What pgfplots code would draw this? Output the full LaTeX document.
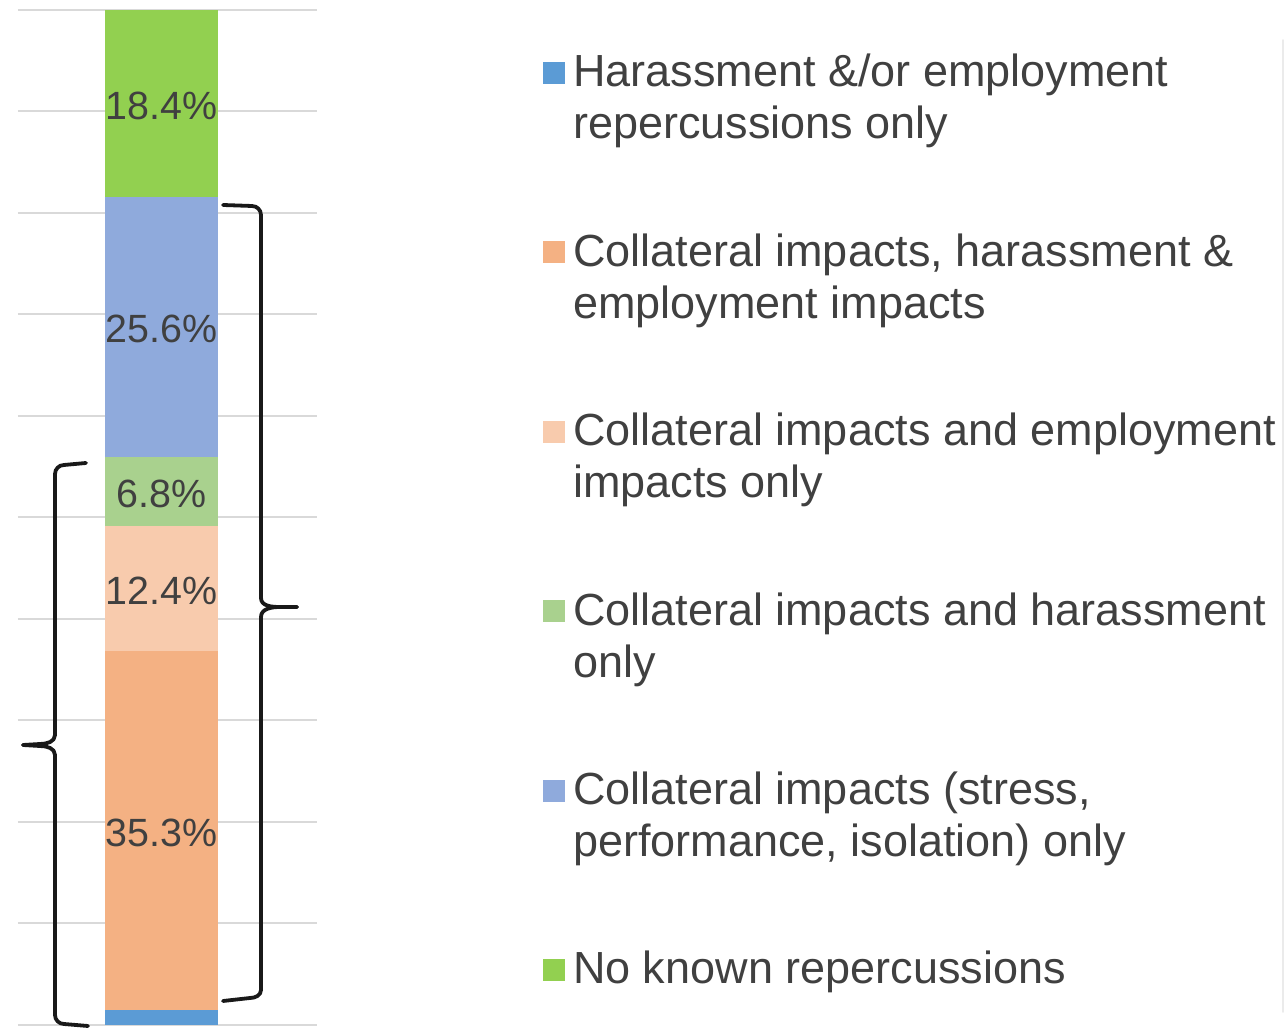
\documentclass[border=0pt]{standalone}
\usepackage{pgfplots}
\pgfplotsset{compat=1.18}
\usepackage{fontspec}
\setmainfont{Liberation Sans}
\definecolor{cHar}{HTML}{5B9BD5}
\definecolor{cCHE}{HTML}{F4B183}
\definecolor{cCE}{HTML}{F8CBAD}
\definecolor{cCH}{HTML}{A9D18E}
\definecolor{cC}{HTML}{8FAADC}
\definecolor{cNone}{HTML}{92D050}
\definecolor{txt}{HTML}{404040}
\definecolor{gridc}{HTML}{D9D9D9}
\begin{document}
\begin{tikzpicture}
\useasboundingbox (0,0) rectangle (643pt,514pt);
\begin{axis}[
  at={(9pt,1.5pt)}, anchor=south west,
  scale only axis, width=149.5pt, height=507.5pt,
  xmin=-143.5, xmax=155.5, ymin=0, ymax=100,
  ybar stacked, bar width=56.5pt,
  axis line style={draw=none},
  ytick={0,10,...,100}, xtick=\empty,
  yticklabels={}, major tick length=0pt,
  ymajorgrids, grid style={gridc, line width=1pt},
  clip=false,
  /pgf/number format/assume math mode=true,
  nodes near coords={\pgfmathprintnumber[fixed,precision=1,fixed zerofill]{\pgfplotspointmeta}\%},
  every node near coord/.append style={font=\fontsize{19.7}{22}\selectfont, text=txt, anchor=center, yshift=-1.3pt},
  legend style={at={(1.7559,0.9557)}, anchor=north west, draw=none, fill=none,
    inner sep=0pt, outer sep=0pt, column sep=4pt, row sep=0pt,
    cells={anchor=base west},
    nodes={inner sep=0pt, text height=16pt, text depth=73.7pt, text=txt,
      font=\fontsize{22.5}{26}\selectfont}},
  legend image code/.code={\fill[#1] (0pt,1.5pt) rectangle (11pt,12.5pt);},
]
\addplot+[draw=none, fill=cHar, nodes near coords={}] coordinates {(0,1.5)};
\addlegendentry{\parbox[t]{340pt}{Harassment \&/or employment\\repercussions only}}
\addplot+[draw=none, fill=cCHE] coordinates {(0,35.3)};
\addlegendentry{\parbox[t]{340pt}{Collateral impacts, harassment \&\\employment impacts}}
\addplot+[draw=none, fill=cCE] coordinates {(0,12.4)};
\addlegendentry{\parbox[t]{360pt}{Collateral impacts and employment\\impacts only}}
\addplot+[draw=none, fill=cCH] coordinates {(0,6.8)};
\addlegendentry{\parbox[t]{360pt}{Collateral impacts and harassment\\only}}
\addplot+[draw=none, fill=cC] coordinates {(0,25.6)};
\addlegendentry{\parbox[t]{340pt}{Collateral impacts (stress,\\performance, isolation) only}}
\addplot+[draw=none, fill=cNone] coordinates {(0,18.4)};
\addlegendentry{\parbox[t]{340pt}{No known repercussions}}
\end{axis}
\begin{scope}[x=0.5pt,y=-0.5pt,shift={(0pt,514pt)}, line width=1.9pt, line cap=round, line join=round, draw=black!90]
\draw (223,205) -- (252,206) to[out=0,in=90] (261,215) -- (261,598) to[out=-90,in=180] (280,607) -- (297,607);
\draw (297,607) -- (280,607) to[out=180,in=90] (261,617) -- (261,990) to[out=-90,in=0] (250,998) -- (223,1001);
\draw (86,463) -- (64,465) to[out=180,in=90] (55,474) -- (55,735) to[out=-90,in=0] (40,744) -- (23,745);
\draw (23,745) -- (40,746) to[out=0,in=90] (55,755) -- (55,1015) to[out=-90,in=180] (64,1024) -- (88,1026);
\draw[line width=0.8pt, draw=black!8] (1283,40) -- (1283,1012);
\end{scope}
\end{tikzpicture}
\end{document}
